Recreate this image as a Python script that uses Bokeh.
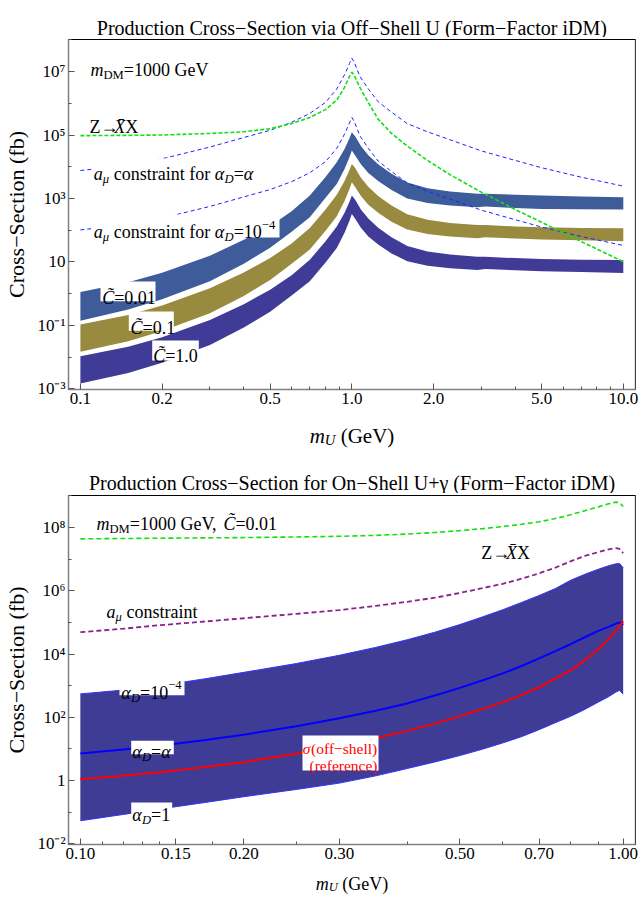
import math
from bokeh.plotting import figure
from bokeh.models import Range1d, FixedTicker, CustomJSTickFormatter, Label, Span, BoxAnnotation
from bokeh.layouts import column
from bokeh.embed import file_html
from bokeh.resources import INLINE

FONT = "Liberation Serif"

# ---------------- data: top panel (off-shell U) ----------------
X_BAND = [0.1, 0.15, 0.2, 0.3, 0.4, 0.5, 0.6, 0.7, 0.8, 0.88, 0.94, 0.98, 1.0, 1.03, 1.08,
          1.15, 1.25, 1.4, 1.6, 1.9, 2.3, 2.9, 3.1, 4.0, 5.0, 7.0, 10.0]
C001_HI = [1.12, 2.29, 4.57, 15.8, 50.1, 135, 398, 1230, 4790, 1.38e4, 3.63e4, 7.94e4, 1.23e5, 8.91e4,
           4.47e4, 2.29e4, 1.20e4, 6.03e3, 3.16e3, 2.09e3, 1.66e3, 1.41e3, 1.41e3, 1.32e3, 1.23e3, 1.15e3, 1.10e3]
C001_LO = [0.141, 0.316, 0.661, 2.45, 8.71, 28.2, 89.1, 257, 1050, 2880, 8510, 2.0e4, 3.24e4, 2.24e4,
           1.20e4, 6.31e3, 3.55e3, 1.86e3, 1.0e3, 724, 603, 530, 560, 501, 468, 457, 447]
C01_HI = [0.107, 0.214, 0.427, 1.48, 4.68, 13.2, 38.0, 117, 447, 1320, 3550, 7940, 1.23e4, 8910,
          4470, 2340, 1200, 603, 316, 214, 170, 145, 145, 132, 123, 117, 115]
C01_LO = [0.0148, 0.0316, 0.0661, 0.240, 0.851, 2.69, 8.71, 24.5, 95.5, 275, 832, 2000, 3240, 2240,
          1200, 631, 355, 186, 105, 75.9, 63.1, 56.0, 60.0, 55.0, 51.3, 47.9, 44.7]
C1_HI = [0.0107, 0.0214, 0.0427, 0.148, 0.468, 1.32, 3.80, 11.7, 44.7, 132, 355, 794, 1230, 891,
         447, 234, 120, 60.3, 31.6, 21.4, 17.0, 14.5, 14.5, 13.2, 12.3, 11.7, 11.5]
C1_LO = [0.00148, 0.00316, 0.00661, 0.0240, 0.0851, 0.269, 0.871, 2.45, 9.55, 27.5, 83.2, 200, 324, 224,
         120, 63.1, 35.5, 18.6, 10.5, 7.59, 6.31, 5.60, 6.00, 5.50, 5.13, 4.79, 4.47]

X_LINE = [0.1, 0.15, 0.2, 0.3, 0.4, 0.5, 0.6, 0.7, 0.8, 0.88, 0.94, 0.98, 1.0, 1.02, 1.07,
          1.15, 1.25, 1.4, 1.6, 1.9, 2.3, 3.0, 4.0, 5.0, 7.0, 10.0]
Z_TOP = [9.55e4, 9.77e4, 1.0e5, 1.12e5, 1.26e5, 1.58e5, 2.29e5, 3.55e5, 6.31e5, 1.26e6, 3.16e6, 7.08e6,
         9.55e6, 7.59e6, 3.16e6, 1.05e6, 3.16e5, 1.12e5, 4.47e4, 1.58e4, 5.62e3, 1.58e3, 447, 178, 43.7, 10.2]
AMU_ALPHA = [7.59e3, 1.12e4, 1.78e4, 4.17e4, 8.32e4, 1.41e5, 2.51e5, 4.79e5, 1.07e6, 2.82e6, 7.94e6, 1.78e7,
             2.63e7, 2.0e7, 7.08e6, 2.82e6, 1.12e6, 5.25e5, 2.29e5, 1.26e5, 7.08e4, 3.16e4, 1.58e4, 9.33e3,
             4.68e3, 2.45e3]
AMU_1E4 = [102, 151, 240, 562, 1.12e3, 1.91e3, 3.39e3, 6.46e3, 1.45e4, 3.80e4, 1.07e5, 2.40e5, 3.55e5,
           2.69e5, 9.55e4, 3.80e4, 1.51e4, 7.08e3, 3.09e3, 1.70e3, 955, 427, 214, 126, 63.1, 33.1]

# ---------------- data: bottom panel (on-shell U + gamma) ----------------
X_ON = [0.1, 0.12, 0.14, 0.17, 0.2, 0.25, 0.3, 0.35, 0.4, 0.45, 0.5, 0.55, 0.6, 0.65, 0.7, 0.75,
        0.8, 0.85, 0.9, 0.94, 0.97, 0.985, 1.0]
Z_ON = [4.37e7, 4.47e7, 4.57e7, 4.68e7, 4.79e7, 5.01e7, 5.25e7, 5.62e7, 6.17e7, 6.92e7, 7.94e7, 9.12e7,
        1.07e8, 1.26e8, 1.51e8, 1.91e8, 2.51e8, 3.39e8, 4.47e8, 5.62e8, 6.31e8, 6.03e8, 4.57e8]
AMU_ON = [4.90e4, 6.31e4, 8.13e4, 1.07e5, 1.35e5, 1.86e5, 2.45e5, 3.31e5, 4.47e5, 6.03e5, 8.51e5, 1.20e6,
          1.66e6, 2.40e6, 3.55e6, 5.37e6, 8.51e6, 1.26e7, 1.66e7, 2.04e7, 2.24e7, 2.09e7, 1.55e7]
AD_1E4 = [550, 724, 1.0e3, 1.66e3, 2.63e3, 5.01e3, 9.12e3, 1.62e4, 2.82e4, 4.90e4, 8.51e4, 1.48e5,
          2.51e5, 4.27e5, 7.08e5, 1.17e6, 2.14e6, 3.31e6, 4.79e6, 6.17e6, 7.08e6, 7.24e6, 5.37e6]
AD_1 = [0.0537, 0.0851, 0.126, 0.204, 0.309, 0.525, 0.832, 1.41, 2.40, 3.89, 6.17, 9.77, 15.5, 24.5,
        40.7, 67.6, 107, 178, 302, 447, 631, 708, 537]
AD_ALPHA = [7.24, 9.55, 12.6, 19.1, 28.2, 52.5, 93.3, 162, 275, 490, 851, 1.45e3, 2.45e3, 4.17e3, 7.24e3,
            1.23e4, 2.04e4, 3.39e4, 5.37e4, 7.24e4, 9.12e4, 1.0e5, 8.32e4]
OFFSHELL = [1.10, 1.41, 1.82, 2.69, 3.80, 7.08, 12.6, 21.9, 37.2, 63.1, 107, 182, 302, 513, 891,
            1.66e3, 3.02e3, 6.31e3, 1.41e4, 3.02e4, 5.62e4, 7.59e4, 1.07e5]

# ---------------- ticks ----------------
XT1_VALS = [0.1, 0.2, 0.5, 1.0, 2.0, 5.0, 10.0]
XT1_LABS = ["0.1", "0.2", "0.5", "1.0", "2.0", "5.0", "10.0"]
XT1_MINOR = [0.3, 0.4, 0.6, 0.7, 0.8, 0.9, 3.0, 4.0, 6.0, 7.0, 8.0, 9.0]
YT1_EXP = [-3, -1, 1, 3, 5, 7]
YT1_LABS = ["10\u207b\u00b3", "10\u207b\u00b9", "10", "10\u00b3", "10\u2075", "10\u2077"]
YT1_MINOR = [1e-2, 1.0, 1e2, 1e4, 1e6, 1e8]

XT2_VALS = [0.1, 0.15, 0.2, 0.3, 0.5, 0.7, 1.0]
XT2_LABS = ["0.10", "0.15", "0.20", "0.30", "0.50", "0.70", "1.00"]
XT2_MINOR = [0.11, 0.12, 0.13, 0.14, 0.175, 0.25, 0.4, 0.6, 0.8, 0.9]
YT2_EXP = [-2, 0, 2, 4, 6, 8]
YT2_LABS = ["10\u207b\u00b2", "1", "10\u00b2", "10\u2074", "10\u2076", "10\u2078"]
YT2_MINOR = [0.1, 10.0, 1e3, 1e5, 1e7, 1e9]

XR1 = (0.0904, 11.09)
YR1 = (9.55e-4, 1.023e8)
XR2 = (0.0951, 1.0537)
YR2 = (9.55e-3, 1.023e9)

TITLE1 = "Production Cross\u2212Section via Off\u2212Shell U (Form\u2212Factor iDM)"
TITLE2 = "Production Cross\u2212Section for On\u2212Shell U+\u03b3 (Form\u2212Factor iDM)"
YLABEL = "Cross\u2212Section (fb)"

# ---------------- text width helper (Times metrics) ----------------
_R = dict(zip("ABCDEFGHIJKLMNOPQRSTUVWXYZ",
              [722, 667, 667, 722, 611, 556, 722, 722, 333, 389, 722, 611, 889, 722, 722, 556, 722, 667, 556,
               611, 722, 722, 944, 722, 722, 611]))
_R.update(zip("abcdefghijklmnopqrstuvwxyz",
              [444, 500, 444, 500, 444, 333, 500, 500, 278, 278, 500, 278, 778, 500, 500, 500, 500, 333, 389,
               278, 500, 500, 722, 500, 500, 444]))
_R.update({c: 500 for c in "0123456789"})
_R.update({' ': 250, '(': 333, ')': 333, '+': 564, ',': 250, '.': 250, '=': 564, '\u2212': 564,
           '\u2192': 760, '-': 333, '\u03b1': 540, '\u03bc': 520, '\u03c3': 530, '\u03b3': 440,
           '\u0303': 0, '\u0304': 0})
_I = dict(_R)
_I.update({'a': 500, 'm': 722, 'C': 667, 'D': 722, 'U': 722, 'X': 611, 'M': 833, 'f': 278})


def text_w(s, italic, size):
    tbl = _I if italic else _R
    return sum(tbl.get(c, 500) for c in s) / 1000.0 * size


class Geom:
    """page-pixel -> data conversion for a log/log frame"""
    def __init__(self, fl, ft, fr, fb, xr, yr):
        self.fl, self.ft, self.fr, self.fb = fl, ft, fr, fb
        self.lx0, self.lx1 = math.log10(xr[0]), math.log10(xr[1])
        self.ly0, self.ly1 = math.log10(yr[0]), math.log10(yr[1])

    def x(self, px):
        return 10 ** (self.lx0 + (px - self.fl) / (self.fr - self.fl) * (self.lx1 - self.lx0))

    def y(self, py):
        return 10 ** (self.ly1 - (py - self.ft) / (self.fb - self.ft) * (self.ly1 - self.ly0))


class LinGeom:
    """page-pixel -> data for a text strip whose data units are page pixels"""
    def __init__(self, top, height):
        self.top, self.h = top, height

    def x(self, px):
        return px

    def y(self, py):
        return self.top + self.h - py


def rich(p, g, px, py, segs, size, color="black", align="left"):
    widths = [text_w(t, it, size * rs) for (t, it, rs, sh) in segs]
    total = sum(widths)
    cur = px - total if align == "right" else (px - total / 2 if align == "center" else px)
    for (t, it, rs, sh), w in zip(segs, widths):
        lead = len(t) - len(t.lstrip(" "))
        txt = t.strip(" ")
        sx = cur + lead * 0.25 * size * rs
        p.add_layout(Label(x=g.x(sx), y=g.y(py - sh * size), text=txt, text_font=FONT,
                           text_font_style="italic" if it else "normal",
                           text_font_size="%.1fpx" % (size * rs), text_color=color,
                           text_align="left", text_baseline="alphabetic"))
        cur += w


def box(p, g, l, r, t, b):
    p.add_layout(BoxAnnotation(left=g.x(l), right=g.x(r), top=g.y(t), bottom=g.y(b),
                               fill_color="white", fill_alpha=1.0, line_alpha=0.0))


def xfmt(vals, labs):
    return CustomJSTickFormatter(args=dict(vals=vals, labs=labs), code="""
for (let i = 0; i < vals.length; i++) { if (Math.abs(tick / vals[i] - 1) < 1e-6) return labs[i]; }
return "";""")


def yfmt(exps, labs):
    return CustomJSTickFormatter(args=dict(exps=exps, labs=labs), code="""
const e = Math.round(Math.log10(tick));
for (let i = 0; i < exps.length; i++) { if (exps[i] === e) return labs[i]; }
return "";""")


W = 643
FL, FR = 68, 635


def text_strip(height):
    f = figure(width=W, height=height, x_range=Range1d(FL, FR), y_range=Range1d(0, height),
               output_backend="svg", toolbar_location=None, title=None,
               min_border_left=FL, min_border_right=W - FR, min_border_top=0, min_border_bottom=0,
               x_axis_location=None, y_axis_location=None)
    f.xgrid.visible = False
    f.ygrid.visible = False
    f.outline_line_color = None
    f.background_fill_color = "white"
    f.border_fill_color = "white"
    return f


def make_fig(height, bottom, xr, yr, xt, xl, xm, ye, yl, ym):
    p = figure(width=W, height=height, x_axis_type="log", y_axis_type="log",
               x_range=Range1d(*xr), y_range=Range1d(*yr),
               output_backend="svg", toolbar_location=None, title=None,
               min_border_left=FL, min_border_right=W - FR, min_border_top=2, min_border_bottom=bottom)
    p.xgrid.visible = False
    p.ygrid.visible = False
    p.outline_line_color = "black"
    p.outline_line_width = 1
    p.background_fill_color = "white"
    p.border_fill_color = "white"
    p.xaxis[0].ticker = FixedTicker(ticks=xt, minor_ticks=xm)
    p.xaxis[0].formatter = xfmt(xt, xl)
    p.yaxis[0].ticker = FixedTicker(ticks=[10.0 ** e for e in ye], minor_ticks=ym)
    p.yaxis[0].formatter = yfmt(ye, yl)
    for ax in (p.xaxis[0], p.yaxis[0]):
        ax.major_tick_in = 6
        ax.major_tick_out = 0
        ax.minor_tick_in = 3
        ax.minor_tick_out = 0
        ax.axis_line_color = "#808080"
        ax.axis_line_width = 1.5
        ax.major_tick_line_color = "#555555"
        ax.minor_tick_line_color = "#555555"
        ax.major_label_text_font = FONT
        ax.major_label_text_font_size = "17px"
        ax.major_label_text_color = "black"
        ax.major_label_standoff = 3
    ya = p.yaxis[0]
    ya.axis_label = YLABEL
    ya.axis_label_text_font = FONT
    ya.axis_label_text_font_size = "22px"
    ya.axis_label_text_font_style = "normal"
    ya.axis_label_text_color = "black"
    ya.axis_label_standoff = 5
    p.add_layout(Span(location=xr[1], dimension="height", line_color="#808080", line_width=1.5))
    return p


S = 18  # in-plot label size
IT, RM = True, False
XLAB = [("m", IT, 1, 0), ("U", IT, 0.7, -0.22), (" (GeV)", RM, 1, 0)]

# ================= top panel =================
t1 = text_strip(37)
rich(t1, LinGeom(0, 37), 351.5, 27, [(TITLE1, RM, 1, 0)], 20, align="center")

p1 = make_fig(378, 26, XR1, YR1, XT1_VALS, XT1_LABS, XT1_MINOR, YT1_EXP, YT1_LABS, YT1_MINOR)
g1 = Geom(68, 39, 635, 389, XR1, YR1)

p1.varea(x=X_BAND, y1=C001_LO, y2=C001_HI, fill_color="#3d5c99")
p1.varea(x=X_BAND, y1=C01_LO, y2=C01_HI, fill_color="#988a3f")
p1.varea(x=X_BAND, y1=C1_LO, y2=C1_HI, fill_color="#403b97")
p1.line(X_LINE, AMU_ALPHA, line_color="#2222ff", line_width=1, line_dash="4 3")
p1.line(X_LINE, AMU_1E4, line_color="#2222ff", line_width=1, line_dash="4 3")
p1.line(X_LINE, Z_TOP, line_color="#11e011", line_width=1.6, line_dash="4 2")

box(p1, g1, 91, 244, 158, 180)
box(p1, g1, 91, 279, 214, 237)
box(p1, g1, 100, 155, 281, 300.7)
box(p1, g1, 128.3, 173.3, 311, 330.3)
box(p1, g1, 151.7, 198.3, 340, 360)

rich(p1, g1, 90, 69.3, [("m", IT, 1, 0), ("DM", RM, 0.7, -0.28), ("=1000 GeV", RM, 1, 0)], S)
rich(p1, g1, 89, 126.7, [("Z\u2192", RM, 1, 0), ("X\u0304", IT, 1, 0), ("X", RM, 1, 0)], S)
rich(p1, g1, 93.3, 173, [("a", IT, 1, 0), ("\u03bc", IT, 0.7, -0.28), (" constraint for ", RM, 1, 0),
                         ("\u03b1", IT, 1, 0), ("D", IT, 0.7, -0.28), ("=", RM, 1, 0), ("\u03b1", IT, 1, 0)], S)
rich(p1, g1, 93.3, 231.7, [("a", IT, 1, 0), ("\u03bc", IT, 0.7, -0.28), (" constraint for ", RM, 1, 0),
                           ("\u03b1", IT, 1, 0), ("D", IT, 0.7, -0.28), ("=10", RM, 1, 0),
                           ("\u22124", RM, 0.7, 0.42)], S)
rich(p1, g1, 101.7, 297.3, [("C\u0303", IT, 1, 0), ("=0.01", RM, 1, 0)], S)
rich(p1, g1, 130, 327.3, [("C\u0303", IT, 1, 0), ("=0.1", RM, 1, 0)], S)
rich(p1, g1, 152.7, 355.7, [("C\u0303", IT, 1, 0), ("=1.0", RM, 1, 0)], S)

x1 = text_strip(33)
rich(x1, LinGeom(415, 33), 351.5, 435, XLAB, 21, align="center")

# ================= bottom panel =================
t2 = text_strip(45)
rich(t2, LinGeom(448, 45), 351.5, 482.5, [(TITLE2, RM, 1, 0)], 20, align="center")

p2 = make_fig(373, 22, XR2, YR2, XT2_VALS, XT2_LABS, XT2_MINOR, YT2_EXP, YT2_LABS, YT2_MINOR)
g2 = Geom(68, 495, 635, 844, XR2, YR2)

p2.varea(x=X_ON, y1=AD_1, y2=AD_1E4, fill_color="#3f3c96")
p2.line(X_ON, AD_1E4, line_color="#3333ff", line_width=1)
p2.line(X_ON, AD_1, line_color="#3333ff", line_width=1)
p2.line(X_ON, AD_ALPHA, line_color="#0000ff", line_width=2)
p2.line(X_ON, OFFSHELL, line_color="#ff0000", line_width=2)
p2.line(X_ON, AMU_ON, line_color="#8a228a", line_width=1.8, line_dash="5 3")
p2.line(X_ON, Z_ON, line_color="#11e011", line_width=1.6, line_dash="5 3")

box(p2, g2, 119, 184, 680.7, 694.7)
box(p2, g2, 130.7, 173.3, 740.3, 753.7)
box(p2, g2, 130.7, 171.7, 802, 816.3)
box(p2, g2, 302, 378, 735, 770)

rich(p2, g2, 96, 523, [("m", IT, 1, 0), ("DM", RM, 0.7, -0.28), ("=1000 GeV, ", RM, 1, 0),
                       ("C\u0303", IT, 1, 0), ("=0.01", RM, 1, 0)], S)
rich(p2, g2, 480.7, 552.3, [("Z\u2192", RM, 1, 0), ("X\u0304", IT, 1, 0), ("X", RM, 1, 0)], S)
rich(p2, g2, 106, 611.3, [("a", IT, 1, 0), ("\u03bc", IT, 0.7, -0.28), (" constraint", RM, 1, 0)], S)
rich(p2, g2, 120.7, 692, [("\u03b1", IT, 1, 0), ("D", IT, 0.7, -0.28), ("=10", RM, 1, 0),
                          ("\u22124", RM, 0.7, 0.42)], S)
rich(p2, g2, 131.7, 751, [("\u03b1", IT, 1, 0), ("D", IT, 0.7, -0.28), ("=", RM, 1, 0), ("\u03b1", IT, 1, 0)], S)
rich(p2, g2, 131.7, 814, [("\u03b1", IT, 1, 0), ("D", IT, 0.7, -0.28), ("=1", RM, 1, 0)], S)
rich(p2, g2, 377, 748, [("\u03c3", IT, 1, 0), ("(off\u2212shell)", RM, 1, 0)], 15.5, color="#ff0000", align="right")
rich(p2, g2, 377, 765, [("(reference)", RM, 1, 0)], 15.5, color="#ff0000", align="right")

x2 = text_strip(29)
rich(x2, LinGeom(866, 29), 351.5, 883, XLAB, 18, align="center")

layout = column(t1, p1, x1, t2, p2, x2)
open("out.html", "w").write(file_html(layout, INLINE))
